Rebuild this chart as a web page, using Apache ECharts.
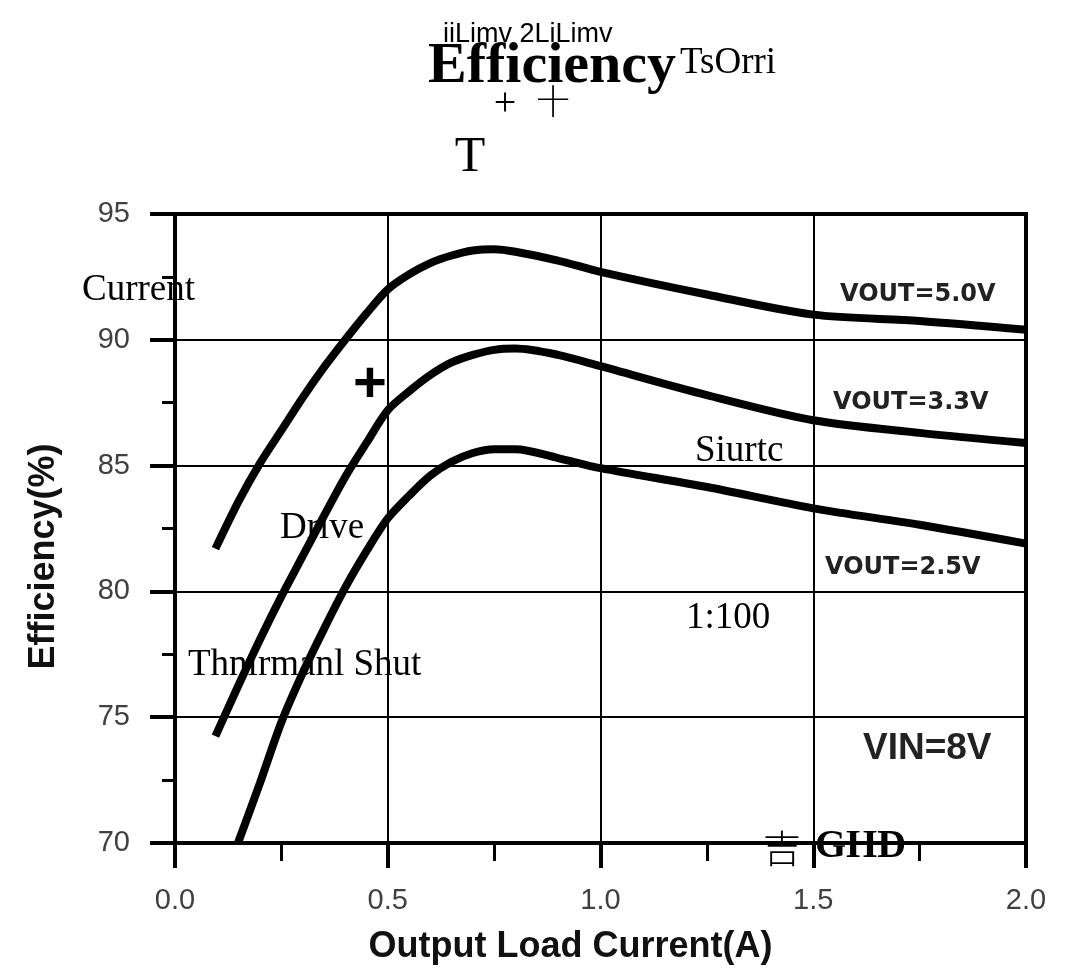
<!DOCTYPE html>
<html>
<head>
<meta charset="utf-8">
<script src="https://cdn.jsdelivr.net/npm/echarts@6/dist/echarts.min.js"></script>
<style>html,body{margin:0;padding:0;background:#fff;}#c{width:1065px;height:976px;}</style>
</head>
<body>
<div id="c"></div>
<script>
const xTickLabels = ['0.0', '0.5', '1.0', '1.5', '2.0'];
const yTickLabels = ['70', '75', '80', '85', '90', '95'];
const seriesNames = ['VOUT=5.0V', 'VOUT=3.3V', 'VOUT=2.5V'];
const vout50 = [[0.095,81.7],[0.15,83.6],[0.2,85.1],[0.25,86.4],[0.3,87.7],[0.35,88.9],[0.4,90.0],[0.45,91.05],[0.5,92.0],[0.55,92.6],[0.6,93.05],[0.65,93.35],[0.7,93.55],[0.75,93.6],[0.8,93.5],[0.9,93.15],[1.0,92.7],[1.25,91.8],[1.5,91.0],[1.75,90.75],[2.0,90.4]];
const vout33 = [[0.095,74.25],[0.15,76.3],[0.2,78.1],[0.25,79.8],[0.3,81.4],[0.35,83.0],[0.4,84.55],[0.45,85.9],[0.5,87.2],[0.55,87.95],[0.6,88.6],[0.65,89.1],[0.7,89.4],[0.75,89.6],[0.8,89.65],[0.9,89.4],[1.0,88.95],[1.25,87.8],[1.5,86.8],[1.75,86.3],[2.0,85.9]];
const vout25 = [[0.148,70.0],[0.2,72.4],[0.25,74.8],[0.3,76.75],[0.35,78.5],[0.4,80.15],[0.45,81.6],[0.5,82.9],[0.55,83.8],[0.6,84.6],[0.65,85.15],[0.7,85.5],[0.75,85.65],[0.8,85.65],[0.9,85.3],[1.0,84.9],[1.25,84.15],[1.5,83.3],[1.75,82.65],[2.0,81.9]];

const chart = echarts.init(document.getElementById('c'), null, {renderer: 'canvas'});
const mkSeries = (name, data) => ({
  name, type: 'line', data, smooth: 0.3, symbol: 'none', clip: true,
  lineStyle: {color: '#000', width: 8}, silent: true
});
const serif = '"Liberation Serif", "DejaVu Serif", serif';
const sans = '"Liberation Sans", Arial, sans-serif';
const txt = (text, x, y, size, opts = {}) => ({
  type: 'text', z: 100,
  style: Object.assign({text, x, y, fill: '#000', fontSize: size, fontFamily: serif, verticalAlign: 'middle', align: 'left'}, opts)
});
chart.setOption({
  backgroundColor: '#fff',
  animation: false,
  grid: {left: 175, right: 39, top: 214, bottom: 133, show: true, borderColor: '#000', borderWidth: 4, outerBoundsMode: 'none'},
  xAxis: {
    type: 'value', min: 0, max: 2, interval: 0.5,
    name: 'Output Load Current(A)', nameLocation: 'middle', nameGap: 86,
    nameTextStyle: {fontFamily: sans, fontWeight: 'bold', fontSize: 36, color: '#111', padding: [0, 60, 0, 0]},
    axisLine: {show: true, lineStyle: {color: '#000', width: 4}},
    axisTick: {show: true, length: 25, lineStyle: {color: '#000', width: 4}},
    minorTick: {show: true, splitNumber: 2, length: 18, lineStyle: {color: '#000', width: 3}},
    axisLabel: {margin: 43, fontSize: 29, fontFamily: sans, color: '#404040',
      formatter: (v) => xTickLabels[Math.round(v / 0.5)]},
    splitLine: {show: true, lineStyle: {color: '#000', width: 2}}
  },
  yAxis: {
    type: 'value', min: 70, max: 95, interval: 5,
    name: 'Efficiency(%)', nameLocation: 'middle', nameGap: 113,
    nameTextStyle: {fontFamily: sans, fontWeight: 'bold', fontSize: 36, color: '#111', padding: [0, 56, 0, 0]},
    axisLine: {show: true, lineStyle: {color: '#000', width: 4}},
    axisTick: {show: true, length: 25, lineStyle: {color: '#000', width: 4}},
    minorTick: {show: true, splitNumber: 2, length: 13, lineStyle: {color: '#000', width: 3}},
    axisLabel: {margin: 45, fontSize: 29, fontFamily: sans, color: '#404040',
      formatter: (v) => yTickLabels[Math.round((v - 70) / 5)]},
    splitLine: {show: true, lineStyle: {color: '#000', width: 2}}
  },
  series: [mkSeries(seriesNames[0], vout50), mkSeries(seriesNames[1], vout33), mkSeries(seriesNames[2], vout25)],
  graphic: [
    txt('Efficiency', 428, 67, 58, {fontWeight: 'bold'}),
    txt('iiLimv 2LiLimv', 443, 35, 27, {fontFamily: sans}),
    txt('TsOrri', 680, 63, 37),
    txt('+', 505, 104, 40, {align: 'center'}),
    txt('十', 553, 101, 34, {align: 'center', fontFamily: '"Noto Sans CJK SC"', fontWeight: 300}),
    txt('T', 470, 158, 50, {align: 'center'}),
    txt('Current', 82, 290, 37),
    txt('+', 370, 386, 58, {align: 'center', fontFamily: sans, fontWeight: 'bold'}),
    txt('Drive', 280, 528, 37),
    txt('Thnirmanl Shut', 188, 665, 37),
    txt('Siurtc', 695, 451, 37),
    txt('1:100', 686, 618, 37),
    txt('吉', 782, 848, 38, {align: 'center', fontFamily: '"Noto Sans CJK SC"', fontWeight: 300}),
    txt('GHD', 815, 847, 40, {fontWeight: 'bold'}),
    txt(seriesNames[0], 840, 295, 24, {fontFamily: '"DejaVu Sans"', fontWeight: 'bold', fill: '#222'}),
    txt(seriesNames[1], 833, 403, 24, {fontFamily: '"DejaVu Sans"', fontWeight: 'bold', fill: '#222'}),
    txt(seriesNames[2], 825, 568, 24, {fontFamily: '"DejaVu Sans"', fontWeight: 'bold', fill: '#222'}),
    txt('VIN=8V', 863, 749, 37, {fontFamily: sans, fontWeight: 'bold', fill: '#222'})
  ]
});
</script>
</body>
</html>
